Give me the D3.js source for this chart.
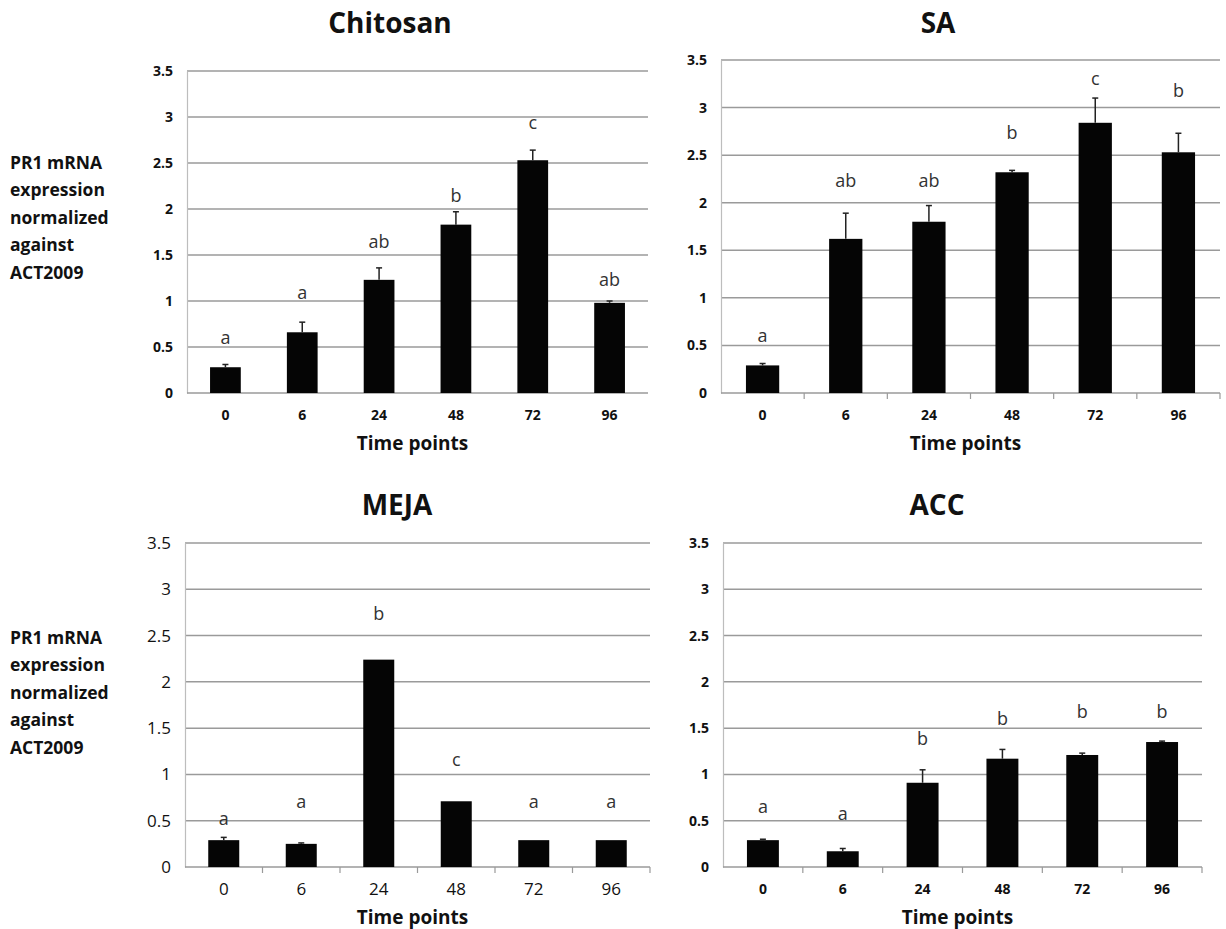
<!DOCTYPE html>
<html>
<head>
    <title>PR1 expression</title>
    <script src="https://d3js.org/d3.v7.min.js"></script>
    <style>
        body { margin: 0; background: #fff; }
        svg { font-family: 'Open Sans', sans-serif; }
        .title { font-size: 28px; font-weight: 700; fill: #111; }
        .ylab { font-size: 17.5px; font-weight: 700; fill: #111; }
        .xlab { font-size: 19px; font-weight: 700; fill: #111; }
        .letter { font-size: 18px; fill: #333; }
    </style>
</head>
<body>
<svg id="chart" width="1226" height="929"></svg>
<script>
    const timePoints = ["0", "6", "24", "48", "72", "96"];
    const yTicks = [0, 0.5, 1, 1.5, 2, 2.5, 3, 3.5];
    const yLabelLines = ["PR1 mRNA", "expression", "normalized", "against", "ACT2009"];

    const chitosanMean = [0.28, 0.66, 1.23, 1.83, 2.53, 0.98];
    const chitosanErr = [0.03, 0.11, 0.13, 0.14, 0.11, 0.02];
    const chitosanLetters = ["a", "a", "ab", "b", "c", "ab"];
    const chitosanLetterAt = [0.58, 1.07, 1.63, 2.13, 2.92, 1.22];

    const saMean = [0.29, 1.62, 1.80, 2.32, 2.84, 2.53];
    const saErr = [0.02, 0.27, 0.17, 0.02, 0.26, 0.20];
    const saLetters = ["a", "ab", "ab", "b", "c", "b"];
    const saLetterAt = [0.59, 2.22, 2.22, 2.72, 3.29, 3.16];

    const mejaMean = [0.29, 0.25, 2.24, 0.71, 0.29, 0.29];
    const mejaErr = [0.03, 0.01, 0, 0, 0, 0];
    const mejaLetters = ["a", "a", "b", "c", "a", "a"];
    const mejaLetterAt = [0.51, 0.69, 2.72, 1.14, 0.69, 0.69];

    const accMean = [0.29, 0.17, 0.91, 1.17, 1.21, 1.35];
    const accErr = [0.01, 0.03, 0.14, 0.10, 0.02, 0.01];
    const accLetters = ["a", "a", "b", "b", "b", "b"];
    const accLetterAt = [0.63, 0.56, 1.37, 1.59, 1.66, 1.66];

    // panel layout: plot box, title position, tick style
    const panels = [
        { name: "Chitosan", mean: chitosanMean, err: chitosanErr, letters: chitosanLetters, letterAt: chitosanLetterAt,
          x0: 187, x1: 648, y0: 71, y1: 393, titleX: 390, titleY: 26, bold: true, xTicks: false, ylab: 164 },
        { name: "SA", mean: saMean, err: saErr, letters: saLetters, letterAt: saLetterAt,
          x0: 721, x1: 1220, y0: 60, y1: 393, titleX: 938, titleY: 26, bold: true, xTicks: true },
        { name: "MEJA", mean: mejaMean, err: mejaErr, letters: mejaLetters, letterAt: mejaLetterAt,
          x0: 185, x1: 650, y0: 543, y1: 867, titleX: 397, titleY: 508, bold: false, xTicks: true, ylab: 639 },
        { name: "ACC", mean: accMean, err: accErr, letters: accLetters, letterAt: accLetterAt,
          x0: 723, x1: 1202, y0: 543, y1: 867, titleX: 937, titleY: 508, bold: true, xTicks: true }
    ];

    const svg = d3.select("#chart");

    panels.forEach(p => {
        const g = svg.append("g");
        const x = d3.scaleBand().domain(timePoints).range([p.x0, p.x1]).paddingInner(0.6).paddingOuter(0.3);
        const xb = d3.scaleBand().domain(timePoints).range([p.x0, p.x1]);
        const y = d3.scaleLinear().domain([0, 3.5]).range([p.y1, p.y0]);
        const tickFont = p.bold ? { size: "14px", weight: 700 } : { size: "17px", weight: 400 };

        // grid lines
        g.selectAll(".grid").data(yTicks.slice(1)).enter().append("line")
            .attr("x1", p.x0).attr("x2", p.x1)
            .attr("y1", d => y(d)).attr("y2", d => y(d))
            .attr("stroke", "#9a9a9a").attr("stroke-width", 1.5);

        // y axis
        const yAxis = g.append("g").attr("transform", `translate(${p.x0},0)`)
            .call(d3.axisLeft(y).tickValues(yTicks).tickSize(0).tickPadding(14).tickFormat(d3.format("")));
        yAxis.select(".domain").attr("stroke", "#bdbdbd").attr("stroke-width", 1.2);
        yAxis.selectAll("text").attr("font-size", tickFont.size).attr("font-weight", tickFont.weight)
            .attr("fill", "#111").attr("font-family", "'Open Sans', sans-serif");

        // x axis line with ticks at band edges
        g.append("line").attr("x1", p.x0).attr("x2", p.x1).attr("y1", p.y1).attr("y2", p.y1)
            .attr("stroke", "#9a9a9a").attr("stroke-width", 1.5);
        if (p.xTicks) {
            g.selectAll(".xt").data(timePoints.slice(1).concat(["end"])).enter().append("line")
                .attr("x1", d => d === "end" ? p.x1 : xb(d)).attr("x2", d => d === "end" ? p.x1 : xb(d))
                .attr("y1", p.y1).attr("y2", p.y1 + 6)
                .attr("stroke", "#9a9a9a").attr("stroke-width", 1.2);
        }
        g.selectAll(".xl").data(timePoints).enter().append("text")
            .attr("x", d => x(d) + x.bandwidth() / 2)
            .attr("y", p.y1 + 23)
            .attr("text-anchor", "middle").attr("dominant-baseline", "middle")
            .attr("font-size", tickFont.size).attr("font-weight", tickFont.weight).attr("fill", "#111")
            .text(d => d);

        // bars
        g.selectAll(".bar").data(p.mean).enter().append("rect")
            .attr("x", (d, i) => x(timePoints[i]))
            .attr("width", x.bandwidth())
            .attr("y", d => y(d))
            .attr("height", d => y(0) - y(d))
            .attr("fill", "#050505");

        // upper error bars
        const eb = g.selectAll(".err").data(p.mean.map((m, i) => ({ m, e: p.err[i], i })).filter(d => d.e > 0))
            .enter().append("g");
        eb.append("line")
            .attr("x1", d => x(timePoints[d.i]) + x.bandwidth() / 2)
            .attr("x2", d => x(timePoints[d.i]) + x.bandwidth() / 2)
            .attr("y1", d => y(d.m)).attr("y2", d => y(d.m + d.e))
            .attr("stroke", "#222").attr("stroke-width", 1.5);
        eb.append("line")
            .attr("x1", d => x(timePoints[d.i]) + x.bandwidth() / 2 - 3)
            .attr("x2", d => x(timePoints[d.i]) + x.bandwidth() / 2 + 3)
            .attr("y1", d => y(d.m + d.e)).attr("y2", d => y(d.m + d.e))
            .attr("stroke", "#222").attr("stroke-width", 1.5);

        // significance letters
        g.selectAll(".letter").data(p.letters).enter().append("text")
            .attr("class", "letter")
            .attr("x", (d, i) => x(timePoints[i]) + x.bandwidth() / 2)
            .attr("y", (d, i) => y(p.letterAt[i]))
            .attr("text-anchor", "middle").attr("dominant-baseline", "middle")
            .text(d => d);

        // titles
        g.append("text").attr("class", "title")
            .attr("x", p.titleX).attr("y", p.titleY)
            .attr("text-anchor", "middle").attr("dominant-baseline", "middle")
            .text(p.name);
        g.append("text").attr("class", "xlab")
            .attr("x", (p.x0 + p.x1) / 2 - 5).attr("y", p.y1 + 52)
            .attr("text-anchor", "middle").attr("dominant-baseline", "middle")
            .text("Time points");

        if (p.ylab) {
            g.selectAll(".yl").data(yLabelLines).enter().append("text")
                .attr("class", "ylab")
                .attr("x", 10).attr("y", (d, i) => p.ylab + i * 27.5)
                .attr("dominant-baseline", "middle")
                .text(d => d);
        }
    });
</script>
</body>
</html>
